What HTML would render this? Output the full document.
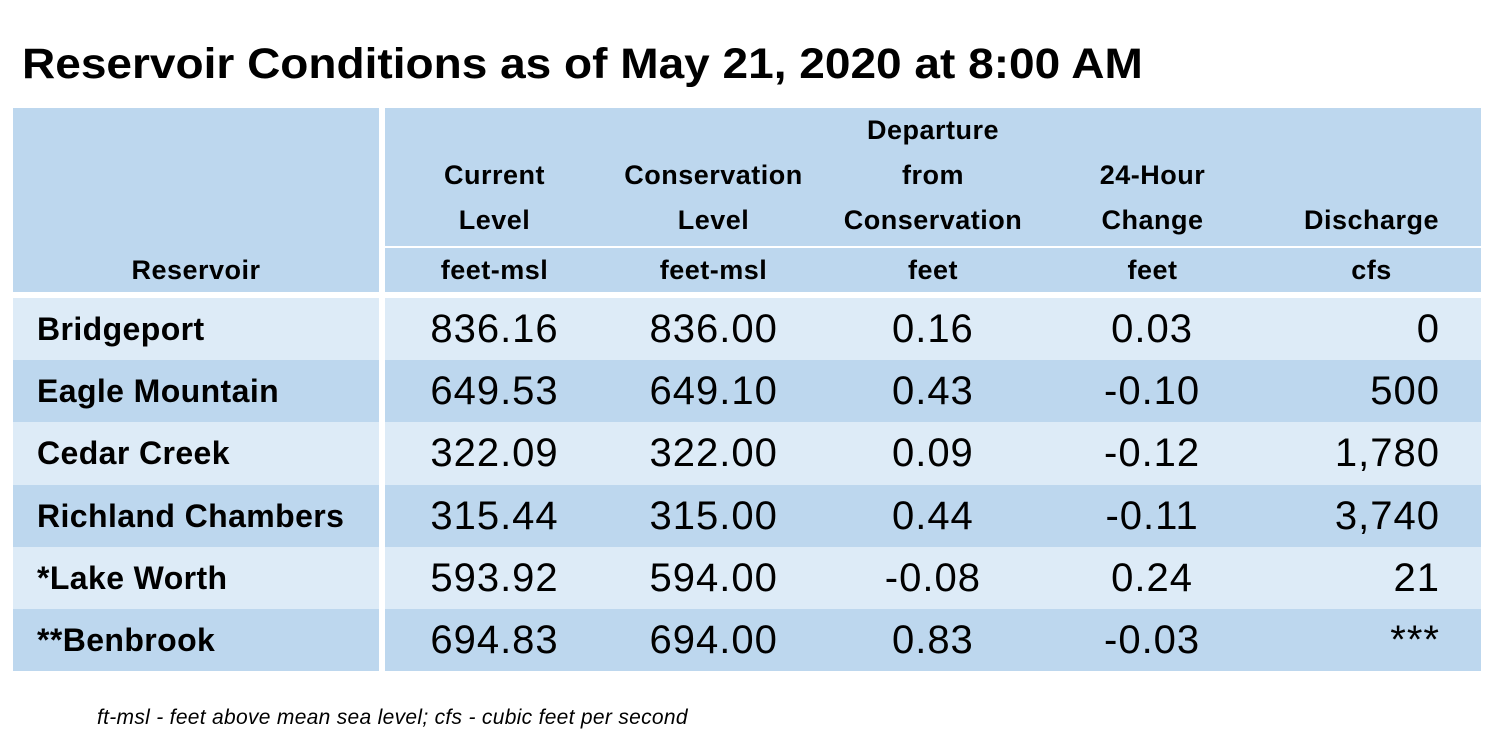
<!DOCTYPE html>
<html><head><meta charset="utf-8"><style>
body{margin:0;width:1496px;height:747px;background:#fff;position:relative;overflow:hidden;font-family:"Liberation Sans",sans-serif;color:#000}
.a{position:absolute}
.title{left:22px;top:40px;font-size:43px;font-weight:bold;white-space:nowrap;transform-origin:left top;transform:scaleX(1.07)}
.hd{background:#BDD7EE}
.h{position:absolute;font-weight:bold;font-size:27px;letter-spacing:0.5px;text-align:center;line-height:45px;white-space:nowrap}
.row{position:absolute;left:13px;width:1468px;height:62.2px}
.c{position:absolute;top:0;height:62px;line-height:62px;font-size:40px;letter-spacing:1px;text-align:center;width:219px}
.n{position:absolute;left:24px;top:0;line-height:62px;font-size:32px;letter-spacing:0.4px;font-weight:bold}
.gap{position:absolute;left:379px;width:6px;background:#fff}
.foot{left:97px;top:706px;font-size:21px;font-style:italic;letter-spacing:0.3px}
</style></head><body>
<div class="a title">Reservoir Conditions as of May 21, 2020 at 8:00 AM</div>
<div class="a hd" style="left:13px;top:108px;width:1468px;height:184px"></div>
<div class="a" style="left:385px;top:246px;width:1096px;height:2px;background:#fff"></div>
<div class="h" style="left:13px;width:366px;top:248px">Reservoir</div>
<div class="h" style="left:385px;width:219px;top:153px">Current<br>Level</div>
<div class="h" style="left:604px;width:219px;top:153px">Conservation<br>Level</div>
<div class="h" style="left:823px;width:220px;top:108px">Departure<br>from<br>Conservation</div>
<div class="h" style="left:1043px;width:219px;top:153px">24-Hour<br>Change</div>
<div class="h" style="left:1262px;width:219px;top:198px">Discharge</div>
<div class="h" style="left:385px;width:219px;top:248px">feet-msl</div>
<div class="h" style="left:604px;width:219px;top:248px">feet-msl</div>
<div class="h" style="left:823px;width:220px;top:248px">feet</div>
<div class="h" style="left:1043px;width:219px;top:248px">feet</div>
<div class="h" style="left:1262px;width:219px;top:248px">cfs</div>
<div id="rows"></div>
<div class="gap" style="top:100px;height:580px"></div>
<div class="a foot">ft-msl - feet above mean sea level; cfs - cubic feet per second</div>
<script>
const names=["Bridgeport","Eagle Mountain","Cedar Creek","Richland Chambers","*Lake Worth","**Benbrook"];
const current=["836.16","649.53","322.09","315.44","593.92","694.83"];
const conservation=["836.00","649.10","322.00","315.00","594.00","694.00"];
const departure=["0.16","0.43","0.09","0.44","-0.08","0.83"];
const change=["0.03","-0.10","-0.12","-0.11","0.24","-0.03"];
const discharge=["0","500","1,780","3,740","21","***"];
const host=document.getElementById('rows');
names.forEach((nm,i)=>{
  const r=document.createElement('div');
  r.className='row';
  
  
  r.style.top=(298+i*62.2)+'px';
  r.style.background=i%2?'#BDD7EE':'#DDEBF7';
  const n=document.createElement('div');n.className='n';n.textContent=nm;
  
  
  r.appendChild(n);
  [current[i],conservation[i],departure[i],change[i]].forEach((v,j)=>{
    const c=document.createElement('div');c.className='c';c.textContent=v;
    
    
    c.style.left=(372+j*219.2)+'px';
    r.appendChild(c);
  });
  const d=document.createElement('div');d.className='c';d.textContent=discharge[i];
  
  
  d.style.left='1249px';d.style.width='178px';d.style.textAlign='right';
  r.appendChild(d);
  host.appendChild(r);
});
</script>
</body></html>
